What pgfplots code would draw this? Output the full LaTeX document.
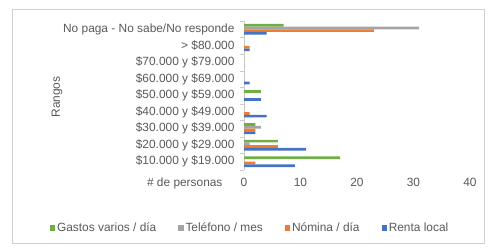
\documentclass[border=0pt]{standalone}
\usepackage{pgfplots}
\pgfplotsset{compat=1.18}
\usepackage{fontspec}
\setmainfont{Liberation Sans}
\definecolor{cgreen}{HTML}{70AD47}
\definecolor{cgray}{HTML}{A5A5A5}
\definecolor{corange}{HTML}{ED7D31}
\definecolor{cblue}{HTML}{4472C4}
\definecolor{ctext}{HTML}{595959}
\newcommand{\cf}{\fontsize{11.9}{13}\selectfont}
\begin{document}
\begin{tikzpicture}[x=1pt,y=1pt]
\path[use as bounding box] (0,0) rectangle (492,249);
\draw[black!18, line width=0.8pt] (12.5,5.5) rectangle (484,239.5);
\node[rotate=90, text=ctext, font=\cf] at (57,152) {Rangos};
\node[anchor=east, text=ctext, font=\cf] at (226,66) {\# de personas};
\begin{axis}[
  at={(244pt,79pt)}, anchor=south west,
  scale only axis, width=226pt, height=149pt,
  xbar, bar width=2.7pt,
  xmin=0, xmax=40, ymin=-0.5, ymax=8.5,
  xtick={0,10,20,30,40},
  ytick={0,...,8},
  yticklabels={{\$10.000 y \$19.000},{\$20.000 y \$29.000},{\$30.000 y \$39.000},{\$40.000 y \$49.000},{\$50.000 y \$59.000},{\$60.000 y \$69.000},{\$70.000 y \$79.000},{> \$80.000},{No paga - No sabe/No responde}},
  minor ytick={-0.5,0.5,...,8.5},
  major tick length=0pt,
  minor tick length=4pt,
  tick align=outside,
  minor tick style={black!20},
  axis x line*=bottom,
  axis y line*=left,
  x axis line style={draw=none},
  y axis line style={black!20},
  axis line style={-},
  /pgf/number format/assume math mode=true,
  tick label style={font=\cf, text=ctext},
  yticklabel style={xshift=-6pt},
  xticklabel style={yshift=-5pt},
  legend columns=4,
  legend style={draw=none, fill=none, font=\cf, text=ctext, at={(0.027,-0.389)}, anchor=center,
    /tikz/every even column/.append style={column sep=20pt}},
  legend cell align=left,
  legend image code/.code={\fill[#1] (0pt,-2.6pt) rectangle (5.2pt,2.6pt);},
]
\addplot[fill=cgreen, draw=none, bar shift=4.05pt] coordinates {(17,0) (6,1) (2,2) (0,3) (3,4) (0,5) (0,6) (0,7) (7,8)};
\addlegendentry{Gastos varios / día}
\addplot[fill=cgray, draw=none, bar shift=1.35pt] coordinates {(0,0) (1,1) (3,2) (0,3) (0,4) (0,5) (0,6) (0,7) (31,8)};
\addlegendentry{Teléfono / mes}
\addplot[fill=corange, draw=none, bar shift=-1.35pt] coordinates {(2,0) (6,1) (2,2) (1,3) (0,4) (0,5) (0,6) (1,7) (23,8)};
\addlegendentry{Nómina / día}
\addplot[fill=cblue, draw=none, bar shift=-4.05pt] coordinates {(9,0) (11,1) (2,2) (4,3) (3,4) (1,5) (0,6) (1,7) (4,8)};
\addlegendentry{Renta local}
\end{axis}
\end{tikzpicture}
\end{document}
